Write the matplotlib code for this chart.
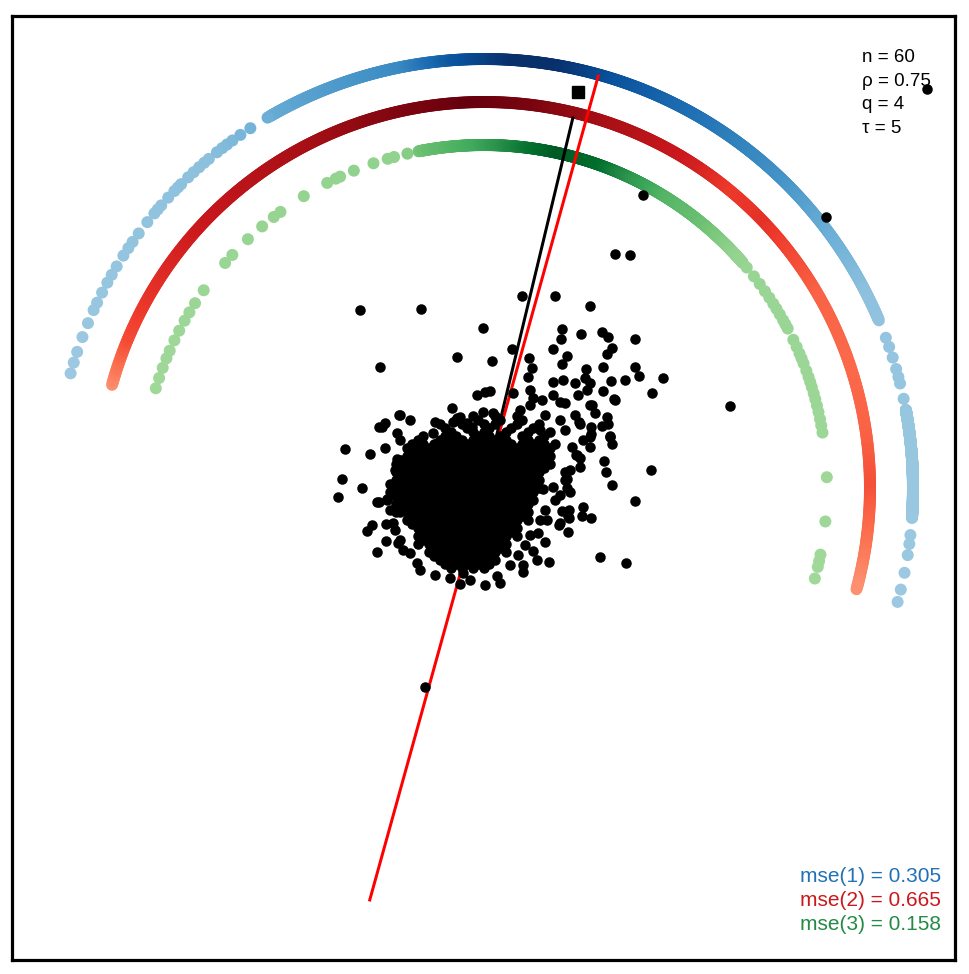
import numpy as np
import matplotlib.pyplot as plt
from matplotlib.collections import LineCollection

# units: 1 unit = 1 px of the reference, origin at the centre of the arcs
radius_blue, radius_red, radius_green = 429, 386, 343

# sparse arc points (angle in degrees) and dense stretches (start, end)
blue_angles = [164.5, 163.0, 161.5, 159.4, 157.4, 155.5, 154.4, 152.9, 151.4, 150.2, 148.9,
               147.2, 146.0, 145.0, 143.6, 141.7, 140.2, 139.5, 138.8, 137.4, 136.2, 135.5,
               134.9, 133.6, 132.6, 131.6, 130.7, 129.9, 128.5, 127.6, 126.8, 125.9, 124.6,
               123.0, 120.3,
               20.5, 19.2, 17.7, 16.1, 15.0, 14.1, 12.0, -6.3, -7.5, -9.0, -11.4, -13.7, -15.4]
blue_dense = [(120.0, 23.0), (10.5, -4.0)]
red_angles = []
red_dense = [(164.5, -15.2)]
green_angles = [163.1, 161.3, 159.5, 157.8, 156.4, 154.5, 152.7, 150.8, 149.2, 147.4,
                144.8, 139.0, 137.2, 133.5, 130.3, 127.8, 126.4, 121.7, 117.2, 115.6,
                114.8, 112.3, 108.8, 106.3, 105.2, 102.9,
                40.0, 38.1, 36.5, 35.0, 33.7, 32.5, 31.5, 30.4, 29.3, 28.5, 27.7, 25.6,
                24.3, 23.1, 22.2, 21.3, 20.0, 18.9, 18.0, 17.1, 16.0, 15.0, 13.9, 12.8,
                11.6, 10.5, 9.3, 1.8, -5.6, -11.2, -12.3, -13.3, -15.3]
green_dense = [(101.0, 41.0)]

# colour shade along each arc (angle -> position in the colormap)
blue_shade_at = [-16, 20, 27, 36, 46, 60, 72, 80, 86, 94, 101, 108, 115, 120, 130, 165]
blue_shade = [0.38, 0.40, 0.42, 0.50, 0.62, 0.75, 0.87, 1.0, 1.0, 0.85, 0.65, 0.60, 0.55, 0.50, 0.42, 0.38]
red_shade_at = [-15.2, -8, 0, 8, 18, 30, 43, 50, 56, 64, 72, 82, 92, 106, 129, 137, 150, 157, 161, 164.5]
red_shade = [0.38, 0.48, 0.57, 0.52, 0.50, 0.52, 0.66, 0.63, 0.72, 0.80, 0.875, 0.96, 1.0, 0.93, 0.80, 0.75, 0.65, 0.58, 0.48, 0.38]
green_shade_at = [-16, 40, 43, 50, 58, 64, 70, 77, 82, 87, 91, 100, 104, 164]
green_shade = [0.38, 0.40, 0.42, 0.52, 0.58, 0.70, 0.87, 0.93, 0.85, 0.72, 0.63, 0.52, 0.42, 0.38]

# scattered points
cloud_outer = [
    (443, 399), (342, 271), (159, 293), (131, 234), (146, 233), (246, 82), (-59, -199),
    (-124, 178), (-63, 179), (38, 192), (71, 192), (106, 182), (-1, 160), (-27, 131),
    (-104, 121), (8, 127), (78, 159), (97, 154), (118, 156), (124, 151), (151, 149),
    (77, 149), (69, 139), (128, 140), (123, 134), (83, 132), (28, 139), (45, 130),
    (78, 124), (102, 119), (119, 121), (151, 121), (155, 112), (179, 110), (141, 108),
    (127, 107), (101, 110), (106, 105), (91, 105), (79, 108), (69, 106), (48, 120),
    (44, 111), (168, 95), (119, 97), (103, 98), (94, 93), (130, 89), (108, 83), (111, 75),
    (81, 85), (123, 71), (124, 64), (118, 62), (107, 61), (96, 64), (107, 54), (126, 52),
    (128, 44), (88, 41), (92, 33), (120, 27), (122, 16), (96, 21), (128, 3), (167, 18),
    (151, -13), (99, -19), (98, -28), (107, -30), (85, -22), (78, -23), (85, -30),
    (75, -37), (84, -44), (116, -69), (142, -75), (65, -74), (39, -77), (39, -84),
    (13, -88), (-24, -96), (-21, -85), (-139, 39), (-114, 34), (-142, 9), (-122, 0),
    (-146, -9), (-107, -64), (-98, -53), (-117, -43), (-112, -37), (-105, -14), (-97, -11),
    (-85, 73), (-87, 55), (-105, 61), (-99, 65), (-32, 80), (-27, 70), (-24, 71),
    (-7, 93), (1, 96), (6, 97),
    (131, 88), (106, 83), (126, 51), (106, 51), (83, 0), (83, 9), (81, 16), (69, 1),
    (59, -1), (95, 66), (96, 30), (93, 33), (84, -28), (76, -35), (63, -32), (54, -45),
    (61, -54), (49, -63),
    (-84, 73), (-102, 61), (-98, -36), (-86, -55), (-67, -75), (-81, -62), (-87, 29),
    (-74, 33), (-64, 32), (-79, 25), (-76, 11), (-82, 8), (-71, 4), (-61, 17), (-51, 31),
    (-46, 28), (-47, 45), (-51, 55), (-49, 66), (-31, 66), (-36, 50), (-29, 46),
    (-17, 65), (-12, 61), (-107, -14), (-97, -12), (-86, -9), (-84, -24), (-91, -35),
    (-1, 76), (9, 75),
    (46, 98), (29, 95), (49, 90), (58, 88), (69, 93), (76, 86), (46, 83), (36, 78),
    (61, 73), (76, 68), (91, 73), (81, 58), (56, 58), (99, 48), (106, 41), (86, 18),
    (81, 8), (76, -7), (86, -4), (71, -12), (61, -22), (56, -32), (46, -47), (41, -57),
    (34, -67), (26, -77), (53, -72), (-74, 68), (-84, 48), (-99, 40), (-89, 18),
    (-94, -22), (-89, -42), (-84, -52), (-74, -65), (-64, -82), (-49, -87), (-34, -90),
    (-14, -92), (1, -97), (16, -95),
]

# dense core, row by row: (y, [x, ...])
cloud_core = [
    (72, [-11, 11, 33]),
    (68, [-28, -6, 16, 38]),
    (64, [-44, -22, 0, 11, 33, 55]),
    (60, [-39, -17, 5, 27, 49]),
    (56, [-33, -11, 0, 22, 44, 66]),
    (52, [-61, -39, -28, -6, 5, 16, 38, 60]),
    (48, [-66, -44, -33, -22, -11, 0, 11, 22, 44, 55]),
    (44, [-72, -61, -50, -39, -28, -17, -6, 5, 16, 27, 38, 49, 60, 71]),
    (40, [-77, -66, -55, -44, -33, -22, -11, 0, 11, 22, 33, 44, 55, 66]),
    (36, [-72, -61, -50, -39, -28, -17, -6, 5, 16, 27, 38, 49, 60]),
    (32, [-77, -66, -55, -44, -33, -22, -11, 0, 11, 22, 33, 44, 55, 66]),
    (28, [-83, -72, -61, -50, -39, -28, -17, -6, 5, 16, 27, 38, 49, 60]),
    (24, [-88, -77, -66, -55, -44, -33, -22, -11, 0, 11, 22, 33, 44, 55, 66]),
    (20, [-83, -72, -61, -50, -39, -28, -17, -6, 5, 16, 27, 38, 49, 60]),
    (16, [-88, -77, -66, -55, -44, -33, -22, -11, 0, 11, 22, 33, 44, 55]),
    (12, [-83, -72, -61, -50, -39, -28, -17, -6, 5, 16, 27, 38, 49]),
    (8, [-88, -77, -66, -55, -44, -33, -22, -11, 0, 11, 22, 33, 44, 55]),
    (4, [-94, -83, -72, -61, -50, -39, -28, -17, -6, 5, 16, 27, 38, 49]),
    (0, [-88, -77, -66, -55, -44, -33, -22, -11, 0, 11, 22, 33, 44, 55]),
    (-4, [-94, -83, -72, -61, -50, -39, -28, -17, -6, 5, 16, 27, 38, 49]),
    (-8, [-88, -77, -66, -55, -44, -33, -22, -11, 0, 11, 22, 33, 44]),
    (-12, [-83, -72, -61, -50, -39, -28, -17, -6, 5, 16, 27, 38, 49]),
    (-16, [-88, -77, -66, -55, -44, -33, -22, -11, 0, 11, 22, 33, 44]),
    (-20, [-83, -72, -61, -50, -39, -28, -17, -6, 5, 16, 27, 38]),
    (-24, [-88, -77, -66, -55, -44, -33, -22, -11, 0, 11, 22, 33, 44]),
    (-28, [-72, -61, -50, -39, -28, -17, -6, 5, 16, 27, 38]),
    (-32, [-77, -66, -55, -44, -33, -22, -11, 0, 11, 22, 33, 44]),
    (-36, [-72, -61, -50, -39, -28, -17, -6, 5, 16, 27]),
    (-40, [-66, -55, -44, -33, -22, -11, 0, 11, 22, 33]),
    (-44, [-61, -50, -39, -28, -17, -6, 5, 16, 27]),
    (-48, [-66, -55, -44, -33, -22, -11, 0, 11, 22, 33]),
    (-52, [-61, -50, -39, -28, -17, -6, 5, 16]),
    (-56, [-66, -55, -44, -33, -22, -11, 0, 11, 22]),
    (-60, [-50, -39, -28, -17, -6, 5, 16]),
    (-64, [-55, -44, -33, -22, -11, 0, 11, 22]),
    (-68, [-50, -39, -28, -17, -6, 5]),
    (-72, [-44, -33, -22, -11, 0, 11]),
    (-76, [-39, -28, -17, -6, 5]),
    (-80, [-33, -22, -11, 0]),
]

black_line_angle, black_line_len = 76.5, 382
red_line_angle = 74.5
square_xy = (94, 396)

stats_text = ['n = 60', 'ρ = 0.75', 'q = 4', 'τ = 5']
mse_labels = ['mse(1) = 0.305', 'mse(2) = 0.665', 'mse(3) = 0.158']
mse_colors = ['#2171b5', '#cb181d', '#238b45']

PT = 72 / 100  # points per pixel


def draw_arc(ax, r, angles, dense, cmap, at, shade):
    cm = plt.get_cmap(cmap)
    for a0, a1 in dense:
        t = np.radians(np.linspace(a0, a1, 500))
        pts = np.column_stack([r * np.cos(t), r * np.sin(t)]).reshape(-1, 1, 2)
        segs = np.concatenate([pts[:-1], pts[1:]], axis=1)
        mid = np.degrees((t[:-1] + t[1:]) / 2)
        lc = LineCollection(segs, colors=cm(np.interp(mid, at, shade)),
                            linewidths=12 * PT, capstyle='round', zorder=1)
        ax.add_collection(lc)
    if angles:
        a = np.radians(angles)
        ax.scatter(r * np.cos(a), r * np.sin(a), s=(12 * PT) ** 2,
                   c=cm(np.interp(angles, at, shade)), linewidths=0, zorder=1)


def main():
    fig = plt.figure(figsize=(9.69, 9.74), dpi=100)
    ax = fig.add_axes([12 / 969, 14 / 974, 943 / 969, 944 / 974])
    ax.set_xlim(-472, 471)
    ax.set_ylim(-472, 472)
    ax.set_xticks([])
    ax.set_yticks([])
    for s in ax.spines.values():
        s.set_linewidth(2.3)

    draw_arc(ax, radius_blue, blue_angles, blue_dense, 'Blues', blue_shade_at, blue_shade)
    draw_arc(ax, radius_red, red_angles, red_dense, 'Reds', red_shade_at, red_shade)
    draw_arc(ax, radius_green, green_angles, green_dense, 'Greens', green_shade_at, green_shade)

    # lines
    ra = np.radians(red_line_angle)
    ax.plot([-radius_blue * np.cos(ra), radius_blue * np.cos(ra)],
            [-radius_blue * np.sin(ra), radius_blue * np.sin(ra)],
            color='#ff0000', lw=3 * PT, zorder=2, solid_capstyle='butt')
    ba = np.radians(black_line_angle)
    ax.plot([0, black_line_len * np.cos(ba)], [0, black_line_len * np.sin(ba)],
            color='black', lw=3 * PT, zorder=2, solid_capstyle='butt')

    # cloud
    xs = [p[0] for p in cloud_outer]
    ys = [p[1] for p in cloud_outer]
    for y, row in cloud_core:
        xs += row
        ys += [y] * len(row)
    ax.scatter(xs, ys, s=(10.5 * PT) ** 2, c='black', linewidths=0, zorder=3)

    ax.plot(*square_xy, marker='s', ms=12 * PT, color='black', zorder=4)

    fam = ['Liberation Sans', 'DejaVu Sans']
    for i, t in enumerate(stats_text):
        ax.text(378, 430 - i * 23.5, t, fontsize=13.5, family=fam, va='center', ha='left')
    for i, (t, c) in enumerate(zip(mse_labels, mse_colors)):
        ax.text(457, -389 - i * 24, t, fontsize=15, family=fam, color=c, va='center', ha='right')

    fig.savefig('out.png', dpi=100)


if __name__ == '__main__':
    main()
